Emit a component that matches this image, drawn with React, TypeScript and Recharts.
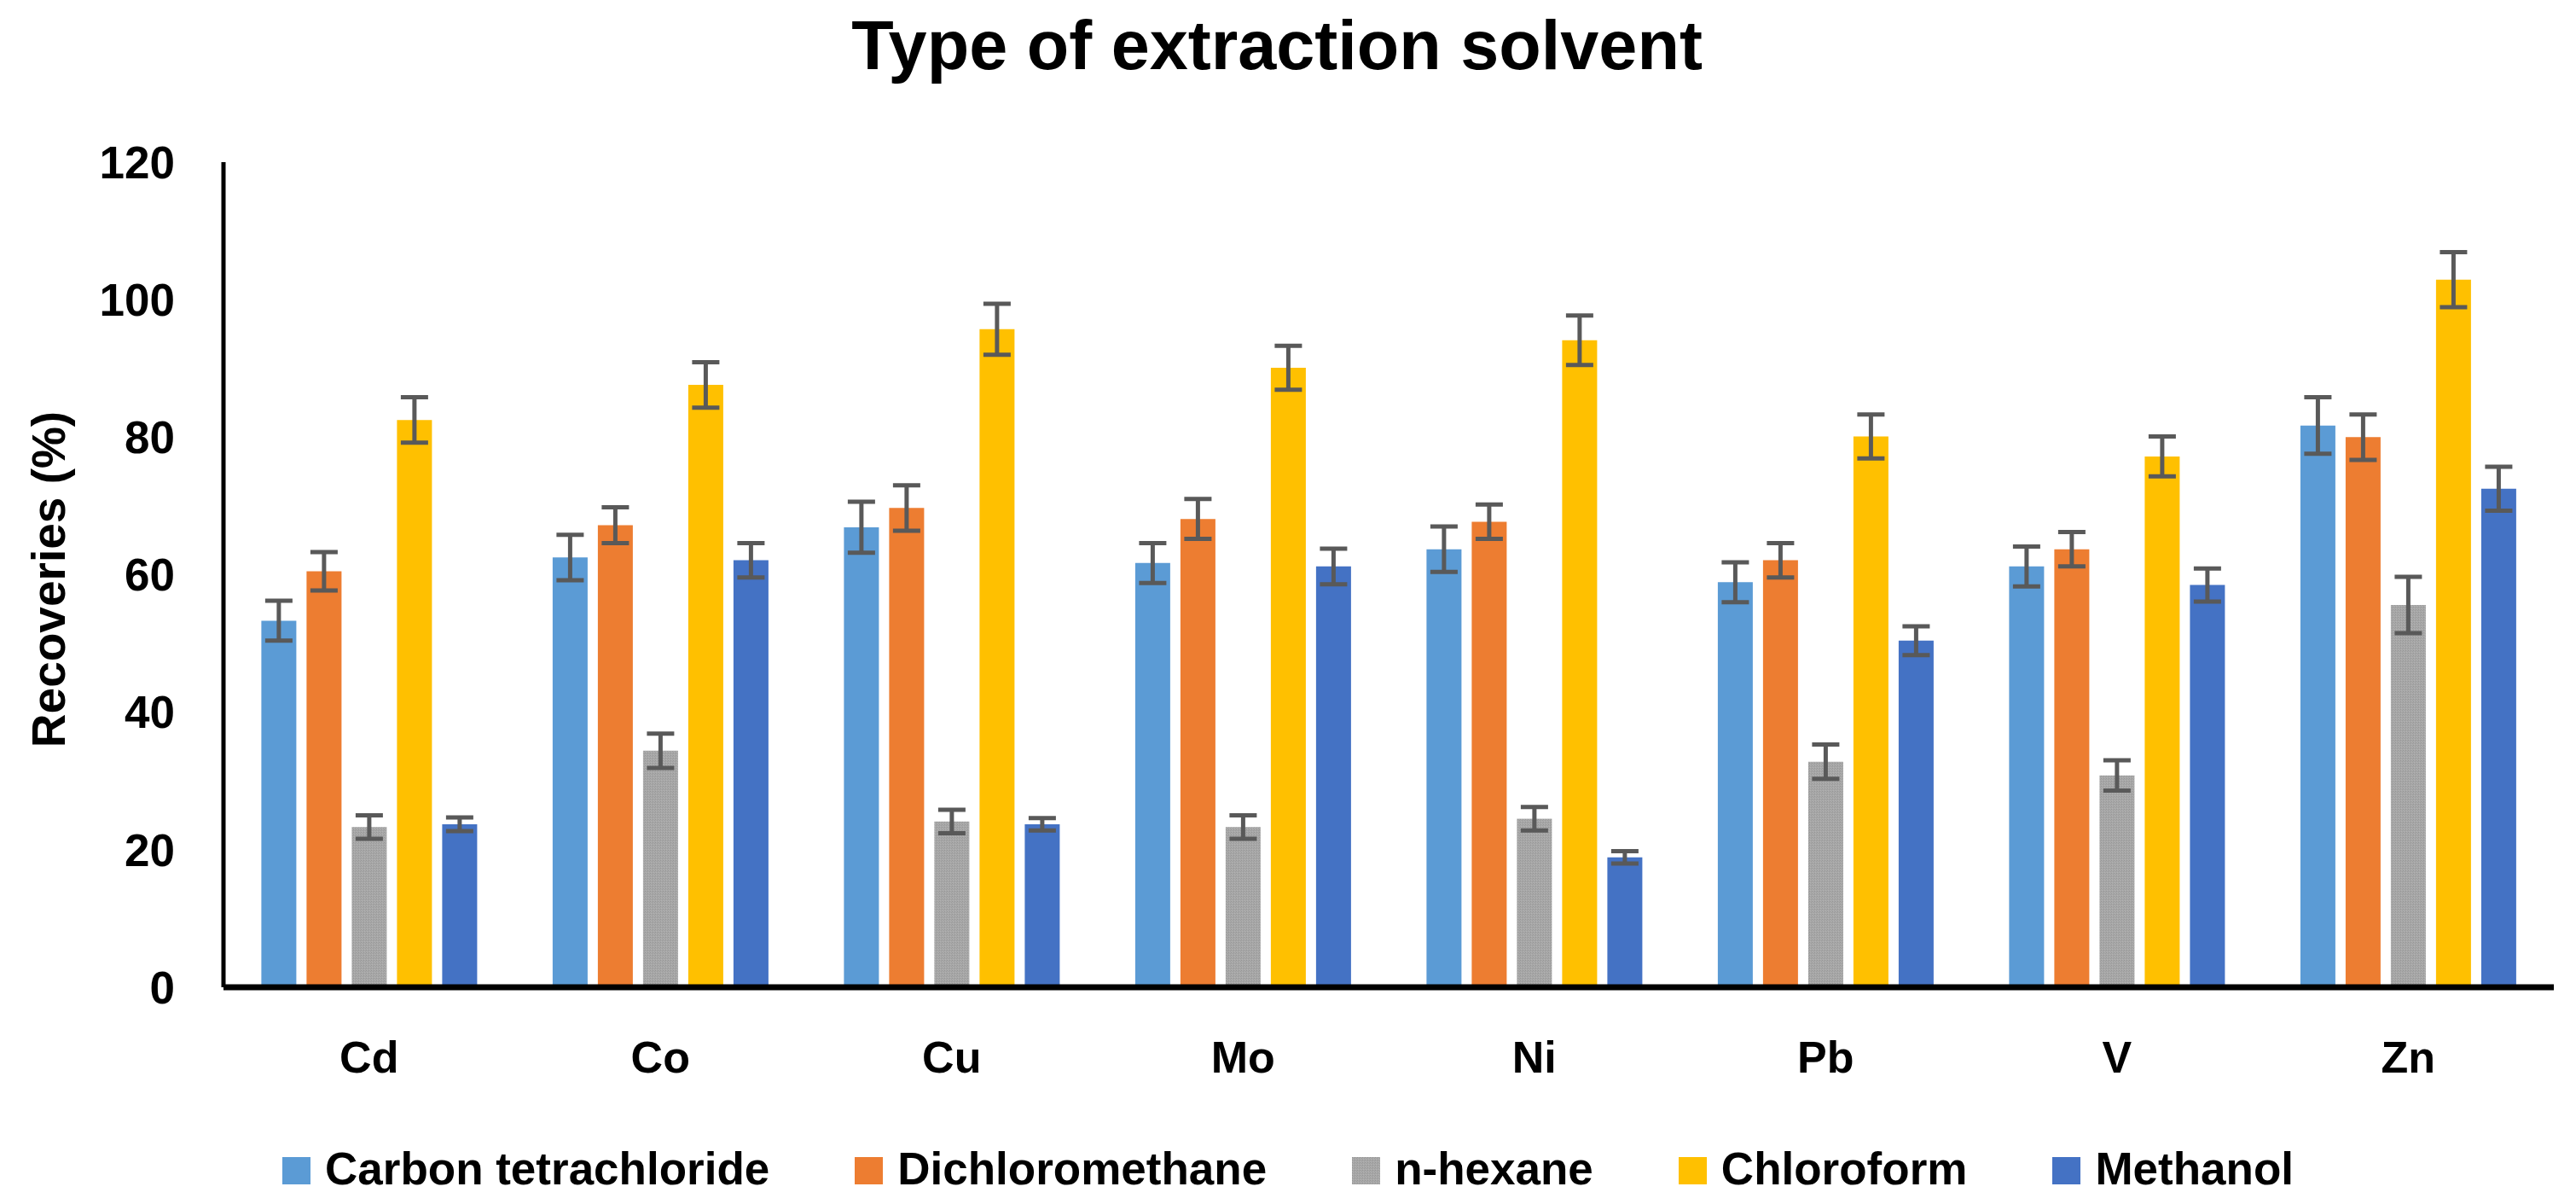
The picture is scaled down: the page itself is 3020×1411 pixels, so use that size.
import React from "react"
import { BarChart, Bar, XAxis, YAxis, ErrorBar, Label } from "recharts"

const categories = ["Cd", "Co", "Cu", "Mo", "Ni", "Pb", "V", "Zn"]

const carbonTet = [53.3, 62.5, 66.9, 61.7, 63.7, 58.9, 61.2, 81.7]
const carbonTetErr = [2.9, 3.3, 3.7, 2.9, 3.3, 2.9, 2.9, 4.1]
const dichloro = [60.5, 67.2, 69.7, 68.1, 67.7, 62.1, 63.7, 80.0]
const dichloroErr = [2.8, 2.6, 3.3, 2.9, 2.5, 2.5, 2.5, 3.3]
const hexane = [23.3, 34.4, 24.1, 23.3, 24.5, 32.8, 30.8, 55.6]
const hexaneErr = [1.7, 2.5, 1.7, 1.7, 1.7, 2.5, 2.2, 4.1]
const chloroform = [82.5, 87.6, 95.7, 90.1, 94.1, 80.1, 77.2, 102.9]
const chloroformErr = [3.3, 3.3, 3.7, 3.2, 3.6, 3.2, 2.9, 4.0]
const methanol = [23.7, 62.1, 23.7, 61.2, 18.9, 50.4, 58.5, 72.5]
const methanolErr = [1.0, 2.5, 0.9, 2.6, 0.9, 2.1, 2.4, 3.2]

const yTicks = [0, 20, 40, 60, 80, 100, 120]

const series = [
  { key: "ct", name: "Carbon tetrachloride", values: carbonTet, errors: carbonTetErr, color: "#5B9BD5" },
  { key: "dcm", name: "Dichloromethane", values: dichloro, errors: dichloroErr, color: "#ED7D31" },
  { key: "hex", name: "n-hexane", values: hexane, errors: hexaneErr, color: "url(#hexPattern)" },
  { key: "chl", name: "Chloroform", values: chloroform, errors: chloroformErr, color: "#FFC000" },
  { key: "meoh", name: "Methanol", values: methanol, errors: methanolErr, color: "#4472C4" },
]

const data = categories.map((c, i) => {
  const row: Record<string, string | number> = { name: c }
  series.forEach((s) => {
    row[s.key] = s.values[i]
    row[s.key + "Err"] = s.errors[i]
  })
  return row
})

const FONT = '"Liberation Sans", Arial, sans-serif'

export default function App() {
  return (
    <div style={{ position: "absolute", left: 0, top: 0, width: 3020, height: 1411, background: "#fff", fontFamily: FONT }}>
      <svg width={0} height={0} style={{ position: "absolute" }}>
        <defs>
          <pattern id="hexPattern" width={3} height={3} patternUnits="userSpaceOnUse">
            <rect width={3} height={3} fill="#A8A8A8" />
            <rect x={0} y={0} width={1} height={1} fill="#969696" />
            <rect x={2} y={1} width={1} height={1} fill="#9C9C9C" />
            <rect x={1} y={2} width={1} height={1} fill="#B2B2B2" />
          </pattern>
        </defs>
      </svg>

      <div
        style={{
          position: "absolute",
          top: 7,
          left: 0,
          width: 2994,
          textAlign: "center",
          fontSize: 81,
          lineHeight: "93px",
          fontWeight: 700,
          color: "#000",
        }}
      >
        Type of extraction solvent
      </div>

      <BarChart
        width={3020}
        height={1411}
        data={data}
        margin={{ top: 190, right: 26, bottom: 0, left: 0 }}
        barCategoryGap="13%"
        barGap={12}
      >
        <XAxis
          dataKey="name"
          height={254}
          axisLine={{ stroke: "#000", strokeWidth: 7 }}
          tickLine={false}
          tickSize={0}
          tickMargin={0}
          tick={({ x, y, payload }: any) => (
            <text x={x} y={y + 100} textAnchor="middle" fontSize={52} fontWeight={700} fontFamily={FONT} fill="#000">
              {payload.value}
            </text>
          )}
        />
        <YAxis
          width={262}
          domain={[0, 120]}
          ticks={yTicks}
          interval={0}
          axisLine={{ stroke: "#000", strokeWidth: 5 }}
          tickLine={false}
          tickSize={0}
          tickMargin={57}
          tick={{ fill: "#000", fontSize: 53, fontWeight: 700, fontFamily: FONT }}
        >
          <Label
            content={() => (
              <text
                transform="translate(57,679) rotate(-90)"
                textAnchor="middle"
                dominantBaseline="central"
                fontSize={55}
                fontWeight={700}
                fontFamily={FONT}
                fill="#000"
              >
                Recoveries (%)
              </text>
            )}
          />
        </YAxis>
        {series.map((s) => (
          <Bar key={s.key} dataKey={s.key} name={s.name} fill={s.color} isAnimationActive={false}>
            <ErrorBar dataKey={s.key + "Err"} width={16} stroke="#595959" strokeWidth={5} direction="y" />
          </Bar>
        ))}
      </BarChart>

      <div
        style={{
          position: "absolute",
          top: 1339,
          left: 0,
          width: 3020,
          display: "flex",
          justifyContent: "center",
          gap: 100,
          fontSize: 53,
          lineHeight: "61px",
          fontWeight: 700,
          color: "#000",
        }}
      >
        {series.map((s) => (
          <div key={s.key} style={{ whiteSpace: "nowrap" }}>
            <svg width={33} height={32} style={{ verticalAlign: "baseline", marginRight: 17 }}>
              <rect width={33} height={32} fill={s.color} />
            </svg>
            {s.name}
          </div>
        ))}
      </div>
    </div>
  )
}
